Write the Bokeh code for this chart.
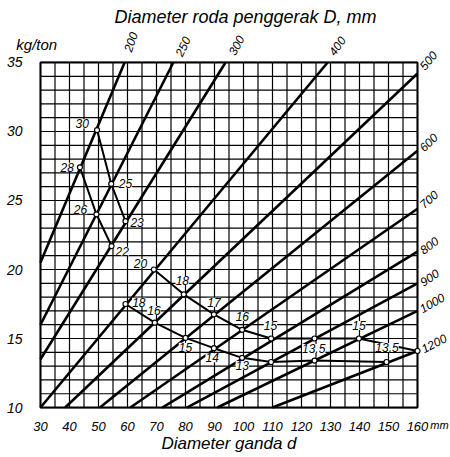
import numpy as np
from bokeh.plotting import figure
from bokeh.models import FixedTicker, Label, LabelSet, ColumnDataSource, Range1d
from bokeh.embed import file_html
from bokeh.resources import INLINE
from bokeh.core.properties import value

FONT = "Liberation Sans"

# ---------------- data ----------------
x_ticks = [30, 40, 50, 60, 70, 80, 90, 100, 110, 120, 130, 140, 150, 160]
y_ticks = [10, 15, 20, 25, 30, 35]
x_grid = list(range(30, 161, 5))
y_grid = list(range(10, 36, 1))
x_min, x_max, y_min, y_max = 30, 160, 10, 35

# wheel-diameter lines D (mm): start / end points
wheel_D = ["200", "250", "300", "400", "500", "600", "700", "800", "900", "1000", "1200"]
line_x0 = [30, 30, 30, 30, 38.5, 50.5, 61, 72, 80.5, 91, 110]
line_y0 = [20.5, 16.0, 13.5, 10, 10, 10, 10, 10, 10, 10, 10]
line_x1 = [59, 75.8, 93.8, 129, 160, 160, 160, 160, 160, 160, 160]
line_y1 = [35, 35, 35, 35, 34.2, 28.6, 24.4, 21.3, 19.0, 17.0, 14.1]

# curves through the marked points
curveA_x = [49.5, 54.4, 59.3]
curveA_y = [30.1, 26.2, 23.5]
curveB_x = [43.6, 49.3, 54.5]
curveB_y = [27.4, 24.0, 21.7]
curveC_x = [69.1, 79.4, 89.8, 99.5, 109.5, 124.5, 139.8, 160.0]
curveC_y = [20.0, 18.2, 16.75, 15.63, 15.0, 15.0, 15.0, 14.1]
curveD_x = [59.3, 69.4, 80.0, 89.8, 99.5, 109.5, 124.5, 149.3]
curveD_y = [17.5, 16.15, 15.05, 14.3, 13.6, 13.3, 13.4, 13.3]

pt_lab_text = ["30", "25", "23", "28", "26", "22",
               "20", "18", "17", "16", "15", "15",
               "18", "16", "15", "14", "13", "13.5", "13.5"]

# ---------------- placement (not data) ----------------
pt_lab_x = [44.4, 59.3, 63.3, 39.2, 43.8, 58.2,
            64.5, 78.9, 89.8, 99.6, 109.3, 139.8,
            63.9, 69.1, 80.0, 89.2, 99.6, 124.2, 149.5]
pt_lab_y = [30.56, 26.21, 23.43, 27.41, 24.33, 21.33,
            20.43, 19.2, 17.63, 16.59, 15.94, 15.94,
            17.63, 17.03, 14.37, 13.6, 13.04, 14.28, 14.35]

D_lab_x = [60.0, 77.6, 95.9, 130.3, 161.5, 161.3, 161.3, 161.3, 161.3, 161.0, 161.6]
D_lab_y = [35.8, 35.5, 35.6, 35.6, 34.6, 28.7, 24.6, 21.3, 19.0, 17.1, 14.2]
D_lab_ang = [72, 65, 62, 55, 50, 45, 42, 38, 35, 30, 28]

# view range so that the chart area sits where it does in the original
view_x = (16.21, 171.38)
view_y = (6.38, 39.49)

p = figure(width=450, height=457, output_backend="svg", toolbar_location=None,
           x_range=Range1d(*view_x), y_range=Range1d(*view_y),
           min_border_left=0, min_border_right=0, min_border_top=0,
           min_border_bottom=0)
p.background_fill_color = "white"
p.border_fill_color = "white"
p.outline_line_color = None
p.xgrid.visible = False
p.ygrid.visible = False

# axes fixed at the chart's edges
p.xaxis.fixed_location = y_min
p.yaxis.fixed_location = x_min
p.xaxis.bounds = (x_min, x_max)
p.yaxis.bounds = (y_min, y_max)
p.xaxis.ticker = FixedTicker(ticks=x_ticks)
p.yaxis.ticker = FixedTicker(ticks=y_ticks)
for ax in (p.xaxis, p.yaxis):
    ax.axis_line_color = None
    ax.major_tick_line_color = None
    ax.minor_tick_line_color = None
    ax.major_label_text_font = FONT
    ax.major_label_text_font_style = "italic"
    ax.major_label_text_font_size = "13px"
    ax.major_label_text_color = "black"
p.yaxis.major_label_text_font_size = "14px"
p.xaxis.major_label_standoff = 8
p.yaxis.major_label_standoff = 12
p.xaxis.axis_label = "Diameter ganda d"
p.xaxis.axis_label_text_font = FONT
p.xaxis.axis_label_text_font_style = "italic"
p.xaxis.axis_label_text_font_size = "17px"
p.xaxis.axis_label_text_color = "black"
p.xaxis.axis_label_standoff = 0

# grid lines (from the grid positions)
p.segment(x0=x_grid, y0=[y_min] * len(x_grid), x1=x_grid, y1=[y_max] * len(x_grid),
          line_color="black", line_width=1.2)
p.segment(x0=[x_min] * len(y_grid), y0=y_grid, x1=[x_max] * len(y_grid), y1=y_grid,
          line_color="black", line_width=1.2)
# chart frame
p.quad(left=[x_min], right=[x_max], bottom=[y_min], top=[y_max],
       fill_color=None, line_color="black", line_width=2)

# D lines
lsrc = ColumnDataSource(dict(x0=line_x0, y0=line_y0, x1=line_x1, y1=line_y1))
p.segment(x0="x0", y0="y0", x1="x1", y1="y1", source=lsrc,
          line_color="black", line_width=2.6)

# curves
for cx, cy in ((curveA_x, curveA_y), (curveB_x, curveB_y),
               (curveC_x, curveC_y), (curveD_x, curveD_y)):
    p.line(cx, cy, line_color="black", line_width=2.0)

all_x = curveA_x + curveB_x + curveC_x + curveD_x
all_y = curveA_y + curveB_y + curveC_y + curveD_y
p.scatter(all_x, all_y, marker="circle", size=5, fill_color="white",
          line_color="black", line_width=1.2)

# point labels
psrc = ColumnDataSource(dict(x=pt_lab_x, y=pt_lab_y, t=pt_lab_text))
p.add_layout(LabelSet(x="x", y="y", text="t", source=psrc,
                      text_font=value(FONT), text_font_style="italic",
                      text_font_size="12px", text_align="center",
                      text_color="black",
                      text_baseline="middle", background_fill_color="white"))

# D labels
dsrc = ColumnDataSource(dict(x=D_lab_x, y=D_lab_y, t=wheel_D,
                             a=list(np.radians(D_lab_ang))))
p.add_layout(LabelSet(x="x", y="y", text="t", angle="a", source=dsrc,
                      text_font=value(FONT), text_font_style="italic",
                      text_font_size="12px", text_align="left",
                      text_color="black", text_baseline="middle"))

# titles
p.add_layout(Label(x=100.7, y=38.26, text="Diameter roda penggerak D, mm",
                   text_font=FONT, text_font_style="italic",
                   text_font_size="18px", text_align="center",
                   text_color="black", text_baseline="middle"))
p.add_layout(Label(x=28.7, y=36.3, text="kg/ton", text_font=FONT,
                   text_font_style="italic", text_font_size="15px",
                   text_color="black",
                   text_align="center", text_baseline="middle"))
p.add_layout(Label(x=164.4, y=8.75, text="mm", text_font=FONT,
                   text_font_style="italic", text_font_size="11px",
                   text_color="black",
                   text_align="left", text_baseline="middle"))

open("out.html", "w").write(file_html(p, INLINE))
